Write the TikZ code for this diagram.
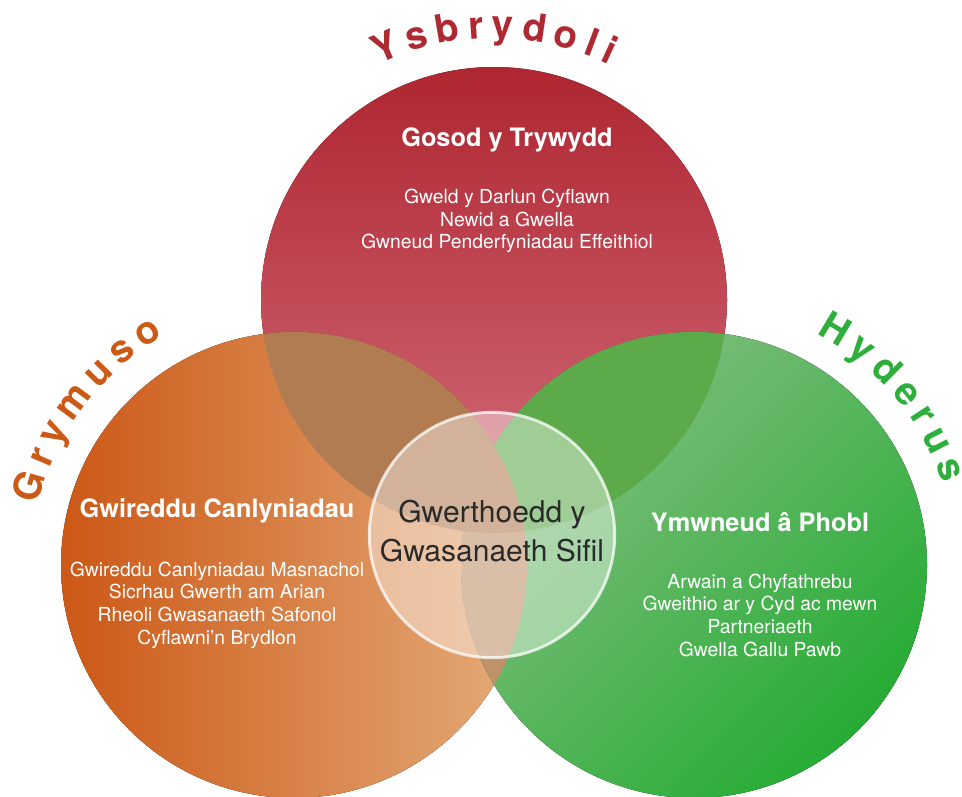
\documentclass[tikz,border=0pt]{standalone}
\usepackage{fontspec}
\setmainfont{TeX Gyre Heros}
\usetikzlibrary{positioning}

\definecolor{redtop}{RGB}{174,38,48}
\definecolor{redbot}{RGB}{212,110,126}
\definecolor{orgleft}{RGB}{204,88,22}
\definecolor{orgright}{RGB}{228,172,122}
\definecolor{grnlight}{RGB}{136,190,132}
\definecolor{grndark}{RGB}{38,172,52}
\definecolor{ovbrown}{RGB}{178,124,82}
\definecolor{ovgreen}{RGB}{92,170,74}
\definecolor{ovtan}{RGB}{192,146,106}
\definecolor{ysred}{RGB}{174,42,51}
\definecolor{grorange}{RGB}{204,90,23}
\definecolor{hygreen}{RGB}{46,174,58}
\definecolor{coregray}{RGB}{42,42,42}

\begin{document}
\begin{tikzpicture}[x=0.75pt,y=0.75pt,on grid]
  \tikzstyle{title}=[text=white,inner sep=0pt,
                     font=\bfseries\fontsize{19}{22}\selectfont]
  \tikzstyle{items}=[text=white,inner sep=0pt,align=center,
                     font=\fontsize{14.5}{17}\selectfont]
  \tikzstyle{arcletter}=[inner sep=0pt,anchor=base,
                         font=\bfseries\fontsize{29}{29}\selectfont]
  \tikzstyle{core}=[circle,minimum size=184pt,fill=white,fill opacity=0.42,
                    draw=white,draw opacity=0.75,line width=2.2pt]

  \useasboundingbox (0,0) rectangle (962,-796);

  \coordinate (ysbc) at (494,-300);
  \coordinate (gryc) at (294,-565);
  \coordinate (hydc) at (694,-565);

  % the three circles
  \fill[top color=redtop,bottom color=redbot] (ysbc) circle (233);
  \fill[left color=orgleft,right color=orgright] (gryc) circle (233);
  \fill[top color=grnlight,bottom color=grndark,shading angle=45] (hydc) circle (233);

  % overlaps
  \begin{scope}
    \clip (ysbc) circle (233);
    \fill[ovgreen] (hydc) circle (233);
  \end{scope}
  \begin{scope}
    \clip (gryc) circle (233);
    \fill[ovtan] (hydc) circle (233);
  \end{scope}
  \begin{scope}
    \clip (ysbc) circle (233);
    \fill[ovbrown] (gryc) circle (233);
  \end{scope}

  % words round the rims
  \foreach \ang/\ch [count=\i] in {113.25/Y,106.39/s,99.76/b,93.83/r,88.14/y,81.51/d,74.65/o,69.19/l,65.15/i}
    \node[arcletter,text=ysred,rotate=\ang-90] (ysl\i) at ([shift={(\ang:262)}]ysbc) {\ch};
  \foreach \ang/\ch [count=\i] in {163.53/G,156.93/r,151.26/y,143.48/m,135.47/u,128.87/s,122.26/o}
    \node[arcletter,text=grorange,rotate=\ang-90] (grl\i) at ([shift={(\ang:263)}]gryc) {\ch};
  \foreach \ang/\ch [count=\i] in {59.1/H,52.0/y,45.37/d,38.74/e,33.05/r,27.12/u,20.49/s}
    \node[arcletter,text=hygreen,rotate=\ang-90] (hyl\i) at ([shift={(\ang:262)}]hydc) {\ch};

  % titles and lists
  \node[title] (gosod) at (507,-140) {Gosod y Trywydd};
  \node[items,below=60.75pt of gosod] (gosodlist)
    {Gweld y Darlun Cyflawn\\Newid a Gwella\\Gwneud Penderfyniadau Effeithiol};

  \node[title] (gwireddu) at (217,-511) {Gwireddu Canlyniadau};
  \node[items,below=70.5pt of gwireddu] (gwireddulist)
    {Gwireddu Canlyniadau Masnachol\\Sicrhau Gwerth am Arian\\Rheoli Gwasanaeth Safonol\\Cyflawni’n Brydlon};

  \node[title] (ymwneud) at (760,-522) {Ymwneud â Phobl};
  \node[items,below=69.75pt of ymwneud] (ymwneudlist)
    {Arwain a Chyfathrebu\\Gweithio ar y Cyd ac mewn\\Partneriaeth\\Gwella Gallu Pawb};

  % the core values
  \node[core] (gwerthoedd) at (492,-535) {};
  \node[text=coregray,align=center,inner sep=0pt,
        font=\fontsize{22.5}{29}\selectfont] (gwerthoeddlabel) at (492,-531)
    {Gwerthoedd y\\Gwasanaeth Sifil};
\end{tikzpicture}
\end{document}
